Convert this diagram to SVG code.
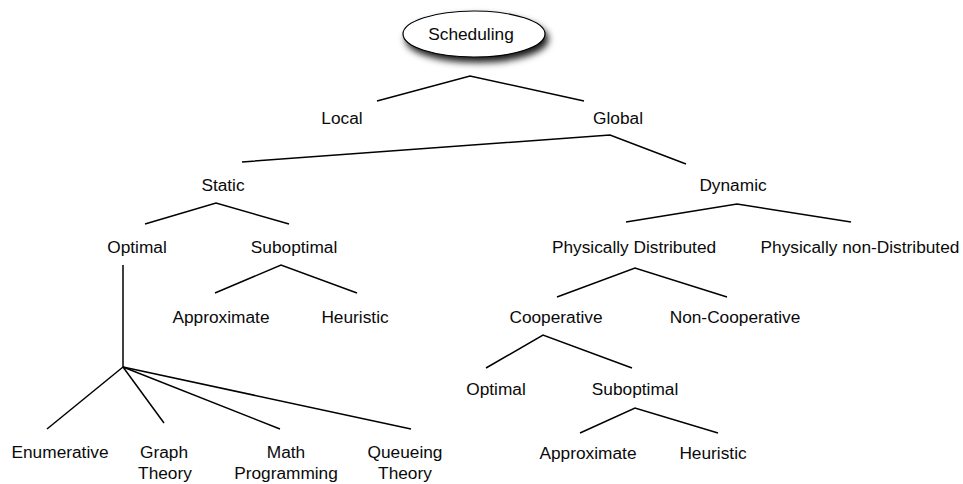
<svg xmlns="http://www.w3.org/2000/svg" width="963" height="484" viewBox="0 0 963 484">
  <defs>
    <filter id="shadow" x="-20%" y="-30%" width="150%" height="190%">
      <feDropShadow dx="3" dy="5" stdDeviation="3.5" flood-color="#000" flood-opacity="0.9"/>
    </filter>
  </defs>
  <style>
    text { font-family: "Liberation Sans", Arial, Helvetica, sans-serif; font-size: 17.3px; fill: #0a0a0a; text-anchor: middle; }
    .edge { fill: none; stroke: #000; stroke-width: 1.5; stroke-linejoin: miter; }
    .root { fill: #fff; stroke: #000; stroke-width: 1.2; }
  </style>
  <rect width="963" height="484" fill="#fff"/>

  <!-- tree branches -->
  <g id="connectors">
    <polyline class="edge" points="377,101 470,76 584,101"/>
    <polyline class="edge" points="242,162 610,135 686,164"/>
    <polyline class="edge" points="145,224 216,203 289,224"/>
    <polyline class="edge" points="215,293 281,265 357,293"/>
    <line class="edge" x1="123" y1="265" x2="123" y2="367"/>
    <line class="edge" x1="123" y1="367" x2="47" y2="429"/>
    <line class="edge" x1="123" y1="367" x2="164" y2="423"/>
    <line class="edge" x1="123" y1="367" x2="280" y2="429"/>
    <line class="edge" x1="123" y1="367" x2="411" y2="429"/>
    <polyline class="edge" points="626,222 737,204 851,222"/>
    <polyline class="edge" points="557,297 635,268 727,297"/>
    <polyline class="edge" points="486,368 543,335 632,368"/>
    <polyline class="edge" points="580,433 635,408 718,433"/>
  </g>

  <g id="scheduling">
    <ellipse class="root" cx="474" cy="34" rx="71" ry="23" filter="url(#shadow)"/>
    <text x="471" y="40">Scheduling</text>
  </g>
  <g id="local"><text x="342" y="124">Local</text></g>
  <g id="global"><text x="618" y="124">Global</text></g>
  <g id="static"><text x="223" y="191">Static</text></g>
  <g id="dynamic"><text x="733" y="191">Dynamic</text></g>

  <g id="static-optimal"><text x="137" y="253">Optimal</text></g>
  <g id="static-suboptimal"><text x="294" y="253">Suboptimal</text></g>
  <g id="static-approximate"><text x="221" y="323">Approximate</text></g>
  <g id="static-heuristic"><text x="355" y="323">Heuristic</text></g>

  <g id="enumerative"><text x="60" y="458">Enumerative</text></g>
  <g id="graph-theory"><text x="164" y="458">Graph</text><text x="165" y="479">Theory</text></g>
  <g id="math-programming"><text x="286" y="458">Math</text><text x="286" y="479">Programming</text></g>
  <g id="queueing-theory"><text x="405" y="458">Queueing</text><text x="405" y="479">Theory</text></g>

  <g id="physically-distributed"><text x="634" y="253">Physically Distributed</text></g>
  <g id="physically-non-distributed"><text x="860" y="253">Physically non-Distributed</text></g>
  <g id="cooperative"><text x="556" y="323">Cooperative</text></g>
  <g id="non-cooperative"><text x="735" y="323">Non-Cooperative</text></g>

  <g id="dynamic-optimal"><text x="496" y="395">Optimal</text></g>
  <g id="dynamic-suboptimal"><text x="635" y="395">Suboptimal</text></g>
  <g id="dynamic-approximate"><text x="588" y="459">Approximate</text></g>
  <g id="dynamic-heuristic"><text x="713" y="459">Heuristic</text></g>
</svg>
